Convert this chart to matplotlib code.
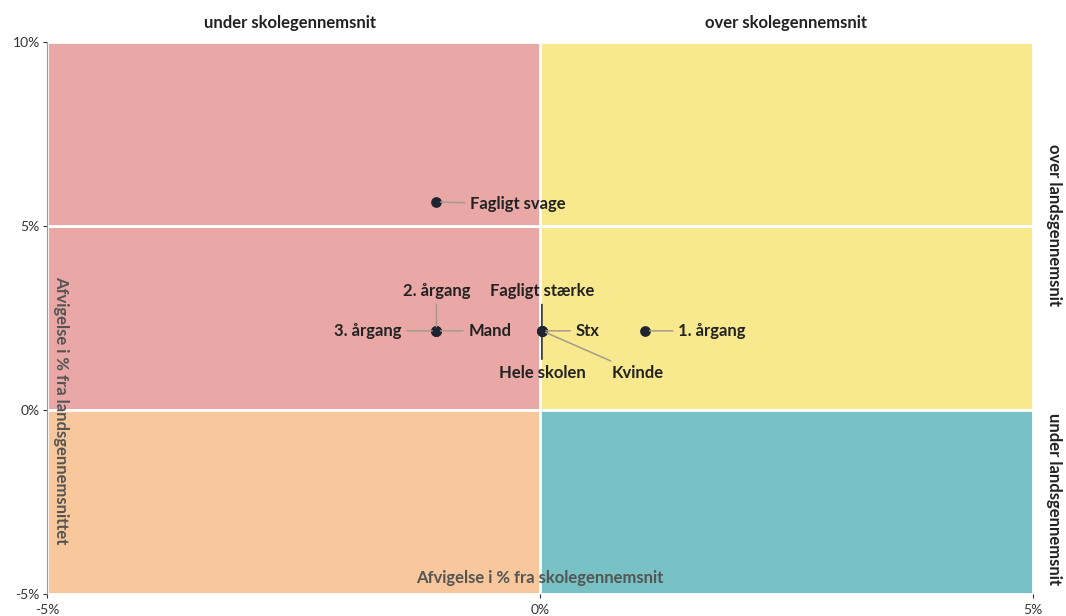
#quadrant chart: afvigelse fra skole- og landsgennemsnit

import matplotlib.pyplot as plt
from matplotlib.patches import Rectangle
from matplotlib.ticker import FuncFormatter

plt.rcParams['font.family'] = ['Lato', 'DejaVu Sans']

# data (% afvigelse)
labels = ['Fagligt svage', '2. årgang', '3. årgang', 'Mand', 'Fagligt stærke',
          'Stx', 'Hele skolen', 'Kvinde', '1. årgang']
x_skole = [-1.05, -1.05, -1.05, -1.05, 0.02, 0.02, 0.02, 0.02, 1.07]
y_lands = [5.65, 2.15, 2.15, 2.15, 2.15, 2.15, 2.15, 2.15, 2.15]
x_ticks = [-5, 0, 5]
y_ticks = [-5, 0, 5, 10]
quadrant_titles_top = ['under skolegennemsnit', 'over skolegennemsnit']
quadrant_titles_right = ['over landsgennemsnit', 'under landsgennemsnit']

# label placement (pixel offsets from point, alignment)
offsets = {
    'Fagligt svage': ((34, -2), 'left'),
    '2. årgang': ((0, 40), 'center'),
    '3. årgang': ((-35, 0), 'right'),
    'Mand': ((32, 0), 'left'),
    'Fagligt stærke': ((0, 40), 'center'),
    'Stx': ((34, 0), 'left'),
    'Hele skolen': ((0, -42), 'center'),
    'Kvinde': ((96, -42), 'center'),
    '1. årgang': ((33, 0), 'left'),
}

fig = plt.figure(figsize=(10.66, 6.16), dpi=100)
ax = fig.add_axes([0.044, 0.0357, 0.925, 0.8963])
ax.set_xlim(x_ticks[0], x_ticks[-1])
ax.set_ylim(y_ticks[0], y_ticks[-1])

# quadrant backgrounds
quads = [((-5, 0), 5, 5, '#e9a8a6'), ((-5, 5), 5, 5, '#e9a8a6'),
         ((0, 0), 5, 5, '#f8e98f'), ((0, 5), 5, 5, '#f8e98f'),
         ((-5, -5), 5, 5, '#f8c79b'), ((0, -5), 5, 5, '#78c1c4')]
for xy, w, h, c in quads:
    ax.add_patch(Rectangle(xy, w, h, facecolor=c, edgecolor='white', linewidth=2, zorder=0))

# points
ax.scatter(x_skole, y_lands, s=45, color='#1f2430', zorder=5)

for lab, xv, yv in zip(labels, x_skole, y_lands):
    (dx, dy), ha = offsets[lab]
    lc = '#222222' if lab in ('Fagligt stærke', 'Hele skolen') else '#a89a8a'
    ax.annotate(lab, (xv, yv), xytext=(dx, dy), textcoords='offset pixels',
                ha=ha, va='center', fontsize=12, fontweight='bold', color='#222222',
                arrowprops=dict(arrowstyle='-', color=lc, lw=1.1, shrinkA=2, shrinkB=3),
                zorder=6)

# axes styling
ax.set_xticks(x_ticks)
ax.set_yticks(y_ticks)
fmt = FuncFormatter(lambda v, p: f'{v:.0f}%')
ax.xaxis.set_major_formatter(fmt)
ax.yaxis.set_major_formatter(fmt)
ax.tick_params(axis='both', labelsize=10, length=3, width=0.8, colors='#333333', pad=2)
ax.tick_params(axis='x', pad=4)
for s in ('top', 'right', 'bottom'):
    ax.spines[s].set_visible(False)
ax.spines['left'].set_color('#9a9a9a')

# axis titles inside the plot
ax.text(0.014, 0.0, 'Afvigelse i % fra landsgennemsnittet', transform=ax.get_yaxis_transform(),
        rotation=-90, ha='center', va='center', fontsize=12, fontweight='bold', color='#555555')
ax.text(0.0, -4.57, 'Afvigelse i % fra skolegennemsnit', ha='center', va='center',
        fontsize=12, color='#555555', fontweight='bold')

# quadrant headers
fig.text(0.272, 0.963, quadrant_titles_top[0], ha='center', va='center', fontsize=12,
         fontweight='bold', color='#222222')
fig.text(0.737, 0.963, quadrant_titles_top[1], ha='center', va='center', fontsize=12,
         fontweight='bold', color='#222222')
fig.text(0.989, 0.635, quadrant_titles_right[0], rotation=-90, ha='center', va='center',
         fontsize=12, fontweight='bold', color='#222222')
fig.text(0.989, 0.19, quadrant_titles_right[1], rotation=-90, ha='center', va='center',
         fontsize=12, fontweight='bold', color='#222222')

fig.savefig('out.png', dpi=100)
